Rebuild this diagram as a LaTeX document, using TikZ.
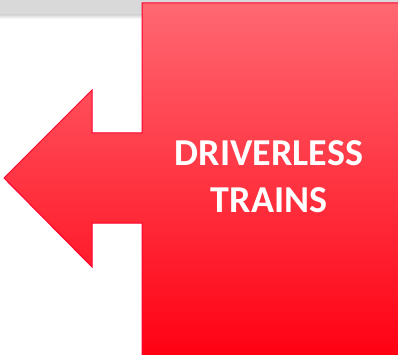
\documentclass[tikz,border=0pt]{standalone}
\usepackage{fontspec}
\setmainfont{Carlito}
\usetikzlibrary{positioning}
\definecolor{bargray}{RGB}{217,217,217}
\definecolor{calltop}{RGB}{255,104,114}
\definecolor{callbot}{RGB}{255,0,18}
\definecolor{callline}{RGB}{255,0,45}

\begin{document}
\begin{tikzpicture}[x=1pt,y=-1pt]
    \useasboundingbox (0,0) rectangle (398,355);
    \fill[bargray] (0,0) rectangle (398,15);
    \shade[top color=bargray, bottom color=white] (0,15) rectangle (398,19);
    \draw[callline, line width=1pt, top color=calltop, bottom color=callbot]
      (142,3) -- (402,3) -- (402,359) -- (142,359) -- (142,223) -- (92,223) -- (92,267)
      -- (4,178) -- (92,90) -- (92,133) -- (142,133) -- cycle;
    \node[text=white, font=\fontsize{38}{47}\selectfont\bfseries, align=center] (label) at (269,177) {DRIVERLESS\\TRAINS};
  \end{tikzpicture}
\end{document}
